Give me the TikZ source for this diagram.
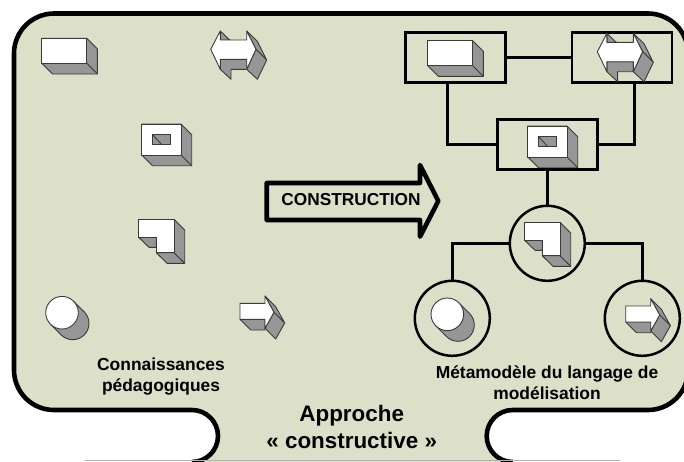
\documentclass[tikz,border=0pt]{standalone}
\usepackage{fontspec}
\setmainfont{Liberation Sans}
\definecolor{sage}{HTML}{DDE0C9}
\definecolor{icongray}{HTML}{969696}
\definecolor{iconline}{HTML}{3A3A3A}
\tikzset{
  every node/.style={
    inner sep=0pt,
    outer sep=0pt,
    font=\bfseries
  },
  back/.style={draw=iconline,fill=icongray,line width=0.9pt,line join=round},
  front/.style={draw=iconline,fill=white,line width=0.9pt,line join=round},
  boxnode/.style={draw,line width=2.5pt,minimum width=100pt,minimum height=50pt},
  roundnode/.style={draw,circle,line width=2.5pt,minimum size=75pt},
  link/.style={line width=2.5pt},
  caption/.style={align=center,font=\bfseries\fontsize{17.4}{20.7}\selectfont},
  pics/blockicon/.style={code={
    \draw[back] (0,0) -- (45,0) -- (55.7,10.7) -- (55.7,35.7) -- (10.7,35.7) -- (0,25) -- cycle;
    \draw[back] (45,25) -- (55.7,35.7);
    \draw[front] (0,0) rectangle (45,25);
  }},
  pics/holeicon/.style={code={
    \draw[back] (0,0) -- (39.3,0) -- (50,10.7) -- (50,41.7) -- (10.7,41.7) -- (0,31) -- cycle;
    \draw[back] (39.3,31) -- (50,41.7);
    \draw[front] (0,0) rectangle (39.3,31);
    \draw[back] (11,10.7) rectangle (28.3,20.7);
    \draw[back] (11,10.7) -- (20,20.7);
  }},
  pics/bendicon/.style={code={
    \draw[back] (35.7,0) -- (46.4,10.7) -- (46.4,44) -- (28.7,44) -- (18,33.4) -- (35.7,33.4) -- cycle;
    \draw[back] (35.7,33.4) -- (46.4,44);
    \draw[back] (0,17.7) -- (10.7,28) -- (18,28) -- (18,17.7) -- cycle;
    \draw[front] (0,0) -- (35.7,0) -- (35.7,33.4) -- (18,33.4) -- (18,17.7) -- (0,17.7) -- cycle;
  }},
  pics/roundicon/.style={code={
    \draw[back] (10.7,10.7) circle (16.3pt);
    \fill[icongray] (11.5,-11.5) -- (22.2,-0.8) -- (-0.8,22.2) -- (-11.5,11.5) -- cycle;
    \draw[back] (11.5,-11.5) -- (22.2,-0.8) (-11.5,11.5) -- (-0.8,22.2);
    \draw[front] (0,0) circle (16.3pt);
  }},
  pics/arrowicon/.style={code={
    \draw[back] (0,16) -- (10.7,26.7) -- (25,26.7) -- (25,16) -- cycle;
    \draw[back] (25,-7.3) -- (35.7,3.4) -- (44.7,19.7) -- (34,9) -- cycle;
    \draw[back] (34,9) -- (44.7,19.7) -- (35.7,35.7) -- (25,25) -- cycle;
    \draw[front] (0,0) -- (25,0) -- (25,-7.3) -- (34,9) -- (25,25) -- (25,16) -- (0,16) -- cycle;
  }},
  pics/twowayicon/.style={code={
    \draw[back] (9.6,-18.3) -- (19.3,-9) -- (9.6,-9) -- cycle;
    \draw[back] (9.6,10) -- (36,10) -- (36,20) -- (20.3,20) -- (20.3,30) -- (9.6,20) -- cycle;
    \draw[back] (36,-18.3) -- (46.7,-8) -- (56,10.7) -- (45.3,0) -- cycle;
    \draw[back] (45.3,0) -- (56,10.7) -- (46.7,30) -- (36,20) -- cycle;
    \draw[front] (0,0) -- (9.6,-18.3) -- (9.6,-9.3) -- (36,-9.3) -- (36,-18.3) -- (45.3,0) -- (36,20) -- (36,10) -- (9.6,10) -- (9.6,20) -- cycle;
  }}
}

\begin{document}
\begin{tikzpicture}[x=1pt,y=-1pt]
    \useasboundingbox (0,0) rectangle (684,461);
    \clip (0,0) rectangle (684,461);
    \draw[line width=4.6pt,fill=sage]
      (192,462) arc[start angle=-90,end angle=90,radius=26pt]
      -- (54,410) arc[start angle=270,end angle=180,radius=40pt]
      -- (14,53.5) arc[start angle=180,end angle=90,radius=40pt]
      -- (648,13.5) arc[start angle=90,end angle=0,radius=40pt]
      -- (688,370) arc[start angle=0,end angle=-90,radius=40pt]
      -- (512.7,410) arc[start angle=90,end angle=270,radius=26pt];
    \draw[gray!60,line width=0.8pt] (85,460.4) -- (620,460.4);

    \pic at (41.7,38.3) {blockicon};
    \pic at (210.7,49.3) {twowayicon};
    \pic at (141.7,124) {holeicon};
    \pic at (138.3,219.3) {bendicon};
    \pic at (62,312.7) {roundicon};
    \pic at (240,303.3) {arrowicon};

    \node[caption] (knowledge) at (161,376.5) {Connaissances\\pédagogiques};
    \node[caption] (metamodel) at (547,382.5) {Métamodèle du langage de\\modélisation};
    \node[align=center,font=\bfseries\fontsize{22.4}{27.5}\selectfont] (approach) at (351.7,427) {Approche\\« constructive »};

    \draw[line width=4.6pt,line join=round] (266.7,183) -- (420,183) -- (420,165) -- (438.3,201) -- (420,236.7) -- (420,220) -- (266.7,220) -- cycle;
    \node[font=\bfseries\fontsize{17.3}{20}\selectfont] (construction) at (351,200) {CONSTRUCTION};

    \node[boxnode] (block) at (455.3,57.7) {};
    \node[boxnode] (twoway) at (622,57.7) {};
    \node[boxnode] (hole) at (547.3,144.3) {};
    \node[roundnode] (bend) at (547.3,243.3) {};
    \node[roundnode] (round) at (452.3,318.3) {};
    \node[roundnode] (arrow) at (642.3,318.3) {};

    \draw[link] (block) -- (twoway);
    \draw[link] ([xshift=-8pt]block.south) |- (hole.west);
    \draw[link] ([xshift=12.3pt]twoway.south) |- (hole.east);
    \draw[link] (hole) -- (bend);
    \draw[link] (bend.west) -| (round.north);
    \draw[link] (bend.east) -| (arrow.north);

    \pic at (427.7,40.7) {blockicon};
    \pic at (597.3,51.7) {twowayicon};
    \pic at (527.7,126) {holeicon};
    \pic at (524.3,222.3) {bendicon};
    \pic at (447.3,314.3) {roundicon};
    \pic at (625.7,306) {arrowicon};
\end{tikzpicture}
\end{document}
